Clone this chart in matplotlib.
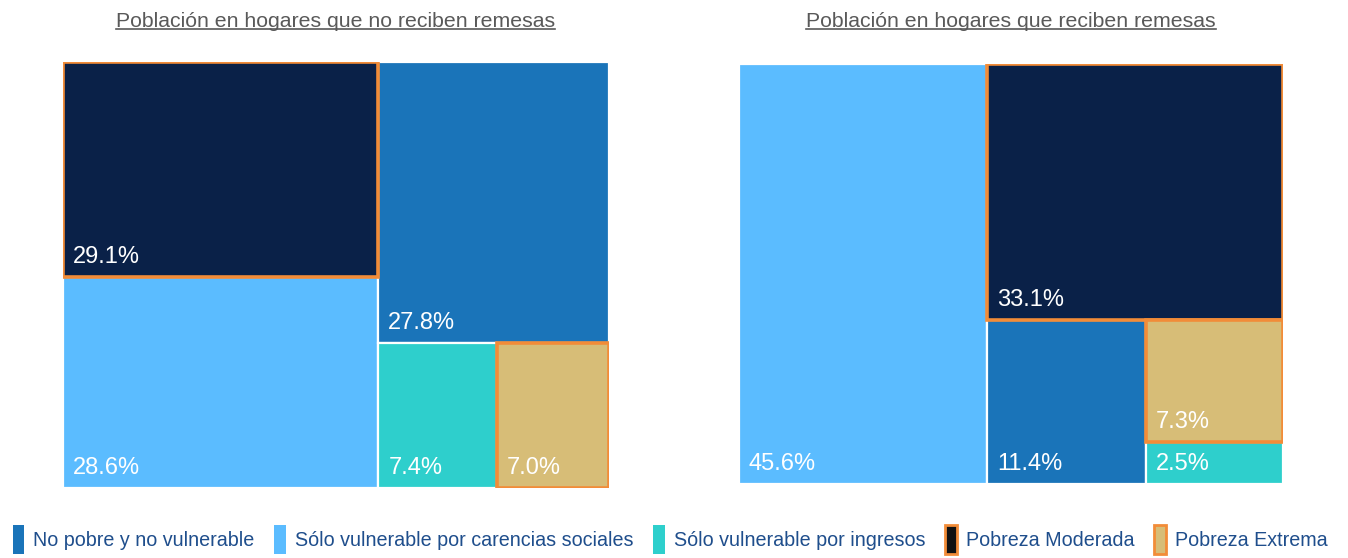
import matplotlib.pyplot as plt
from matplotlib.patches import Rectangle, Patch
from matplotlib.lines import Line2D

plt.rcParams['font.family'] = ['Liberation Sans', 'DejaVu Sans']

CATEGORIES = ['No pobre y no vulnerable', 'Sólo vulnerable por carencias sociales',
              'Sólo vulnerable por ingresos', 'Pobreza Moderada', 'Pobreza Extrema']
COLORS = ['#1a74b9', '#5bbcff', '#2ecfcc', '#0a2148', '#d7bd77']
ORANGE = '#f28c38'
POVERTY = {3, 4}

TITLES = ['Población en hogares que no reciben remesas',
          'Población en hogares que reciben remesas']
no_remesas = [27.8, 28.6, 7.4, 29.1, 7.0]
con_remesas = [11.4, 45.6, 2.5, 33.1, 7.3]

# nesting of the treemap: ('h', ...) splits left-right, ('v', ...) splits top-bottom
LAYOUT_NO = ('h', ('v', 3, 1), ('v', 0, ('h', 2, 4)))
LAYOUT_CON = ('h', 1, ('v', 3, ('h', 0, ('v', 4, 2))))


def total(node, vals):
    if isinstance(node, int):
        return vals[node]
    return sum(total(c, vals) for c in node[1:])


def place(node, vals, x, y, w, h, out):
    # y is the top edge, axis runs downwards
    if isinstance(node, int):
        out.append((node, x, y, w, h))
        return
    s = total(node, vals)
    pos = 0.0
    for child in node[1:]:
        f = total(child, vals) / s
        if node[0] == 'h':
            place(child, vals, x + pos * w, y, w * f, h, out)
        else:
            place(child, vals, x, y + pos * h, w, h * f, out)
        pos += f


def draw_treemap(ax, vals, layout):
    rects = []
    place(layout, vals, 0, 0, 1, 1, rects)
    rects.sort(key=lambda r: r[0] in POVERTY)
    for idx, x, y, w, h in rects:
        if idx in POVERTY:
            ax.add_patch(Rectangle((x, y), w, h, facecolor=COLORS[idx],
                                   edgecolor=ORANGE, linewidth=2.6, zorder=2))
        else:
            ax.add_patch(Rectangle((x, y), w, h, facecolor=COLORS[idx],
                                   edgecolor='white', linewidth=1.6, zorder=1))
        ax.annotate(f'{vals[idx]:.1f}%', (x, y + h), xytext=(10, 9),
                    textcoords='offset pixels', color='white', fontsize=17,
                    ha='left', va='bottom', zorder=3)
    ax.set_xlim(0, 1)
    ax.set_ylim(1, 0)
    ax.axis('off')


fig = plt.figure(figsize=(13.48, 5.58), dpi=100)
ax1 = fig.add_axes([0.0467, 0.1254, 0.405, 0.763])
ax2 = fig.add_axes([0.548, 0.1326, 0.4036, 0.7527])
draw_treemap(ax1, no_remesas, LAYOUT_NO)
draw_treemap(ax2, con_remesas, LAYOUT_CON)

titles = []
for ax, t in zip([ax1, ax2], TITLES):
    pos = ax.get_position()
    titles.append(fig.text(pos.x0 + pos.width / 2, 0.962, t, ha='center', va='center',
                           fontsize=15.3, color='#595959'))

handles = []
for i, c in enumerate(CATEGORIES):
    if i in POVERTY:
        handles.append(Patch(facecolor='#111111' if i == 3 else COLORS[i],
                             edgecolor=ORANGE, linewidth=2))
    else:
        handles.append(Patch(facecolor=COLORS[i], edgecolor='none'))
leg = fig.legend(handles, CATEGORIES, loc='lower center', bbox_to_anchor=(0.497, -0.025),
                 ncol=5, frameon=False, fontsize=14.2, handlelength=0.6, handleheight=1.9,
                 handletextpad=0.45, columnspacing=1.0)
for t in leg.get_texts():
    t.set_color('#1f4e8c')

# underline the titles
fig.canvas.draw()
r = fig.canvas.get_renderer()
for t in titles:
    bb = t.get_window_extent(r).transformed(fig.transFigure.inverted())
    fig.add_artist(Line2D([bb.x0, bb.x1], [bb.y0 + 0.003, bb.y0 + 0.003],
                          color='#595959', linewidth=1.2))

fig.savefig('out.png', dpi=100)
